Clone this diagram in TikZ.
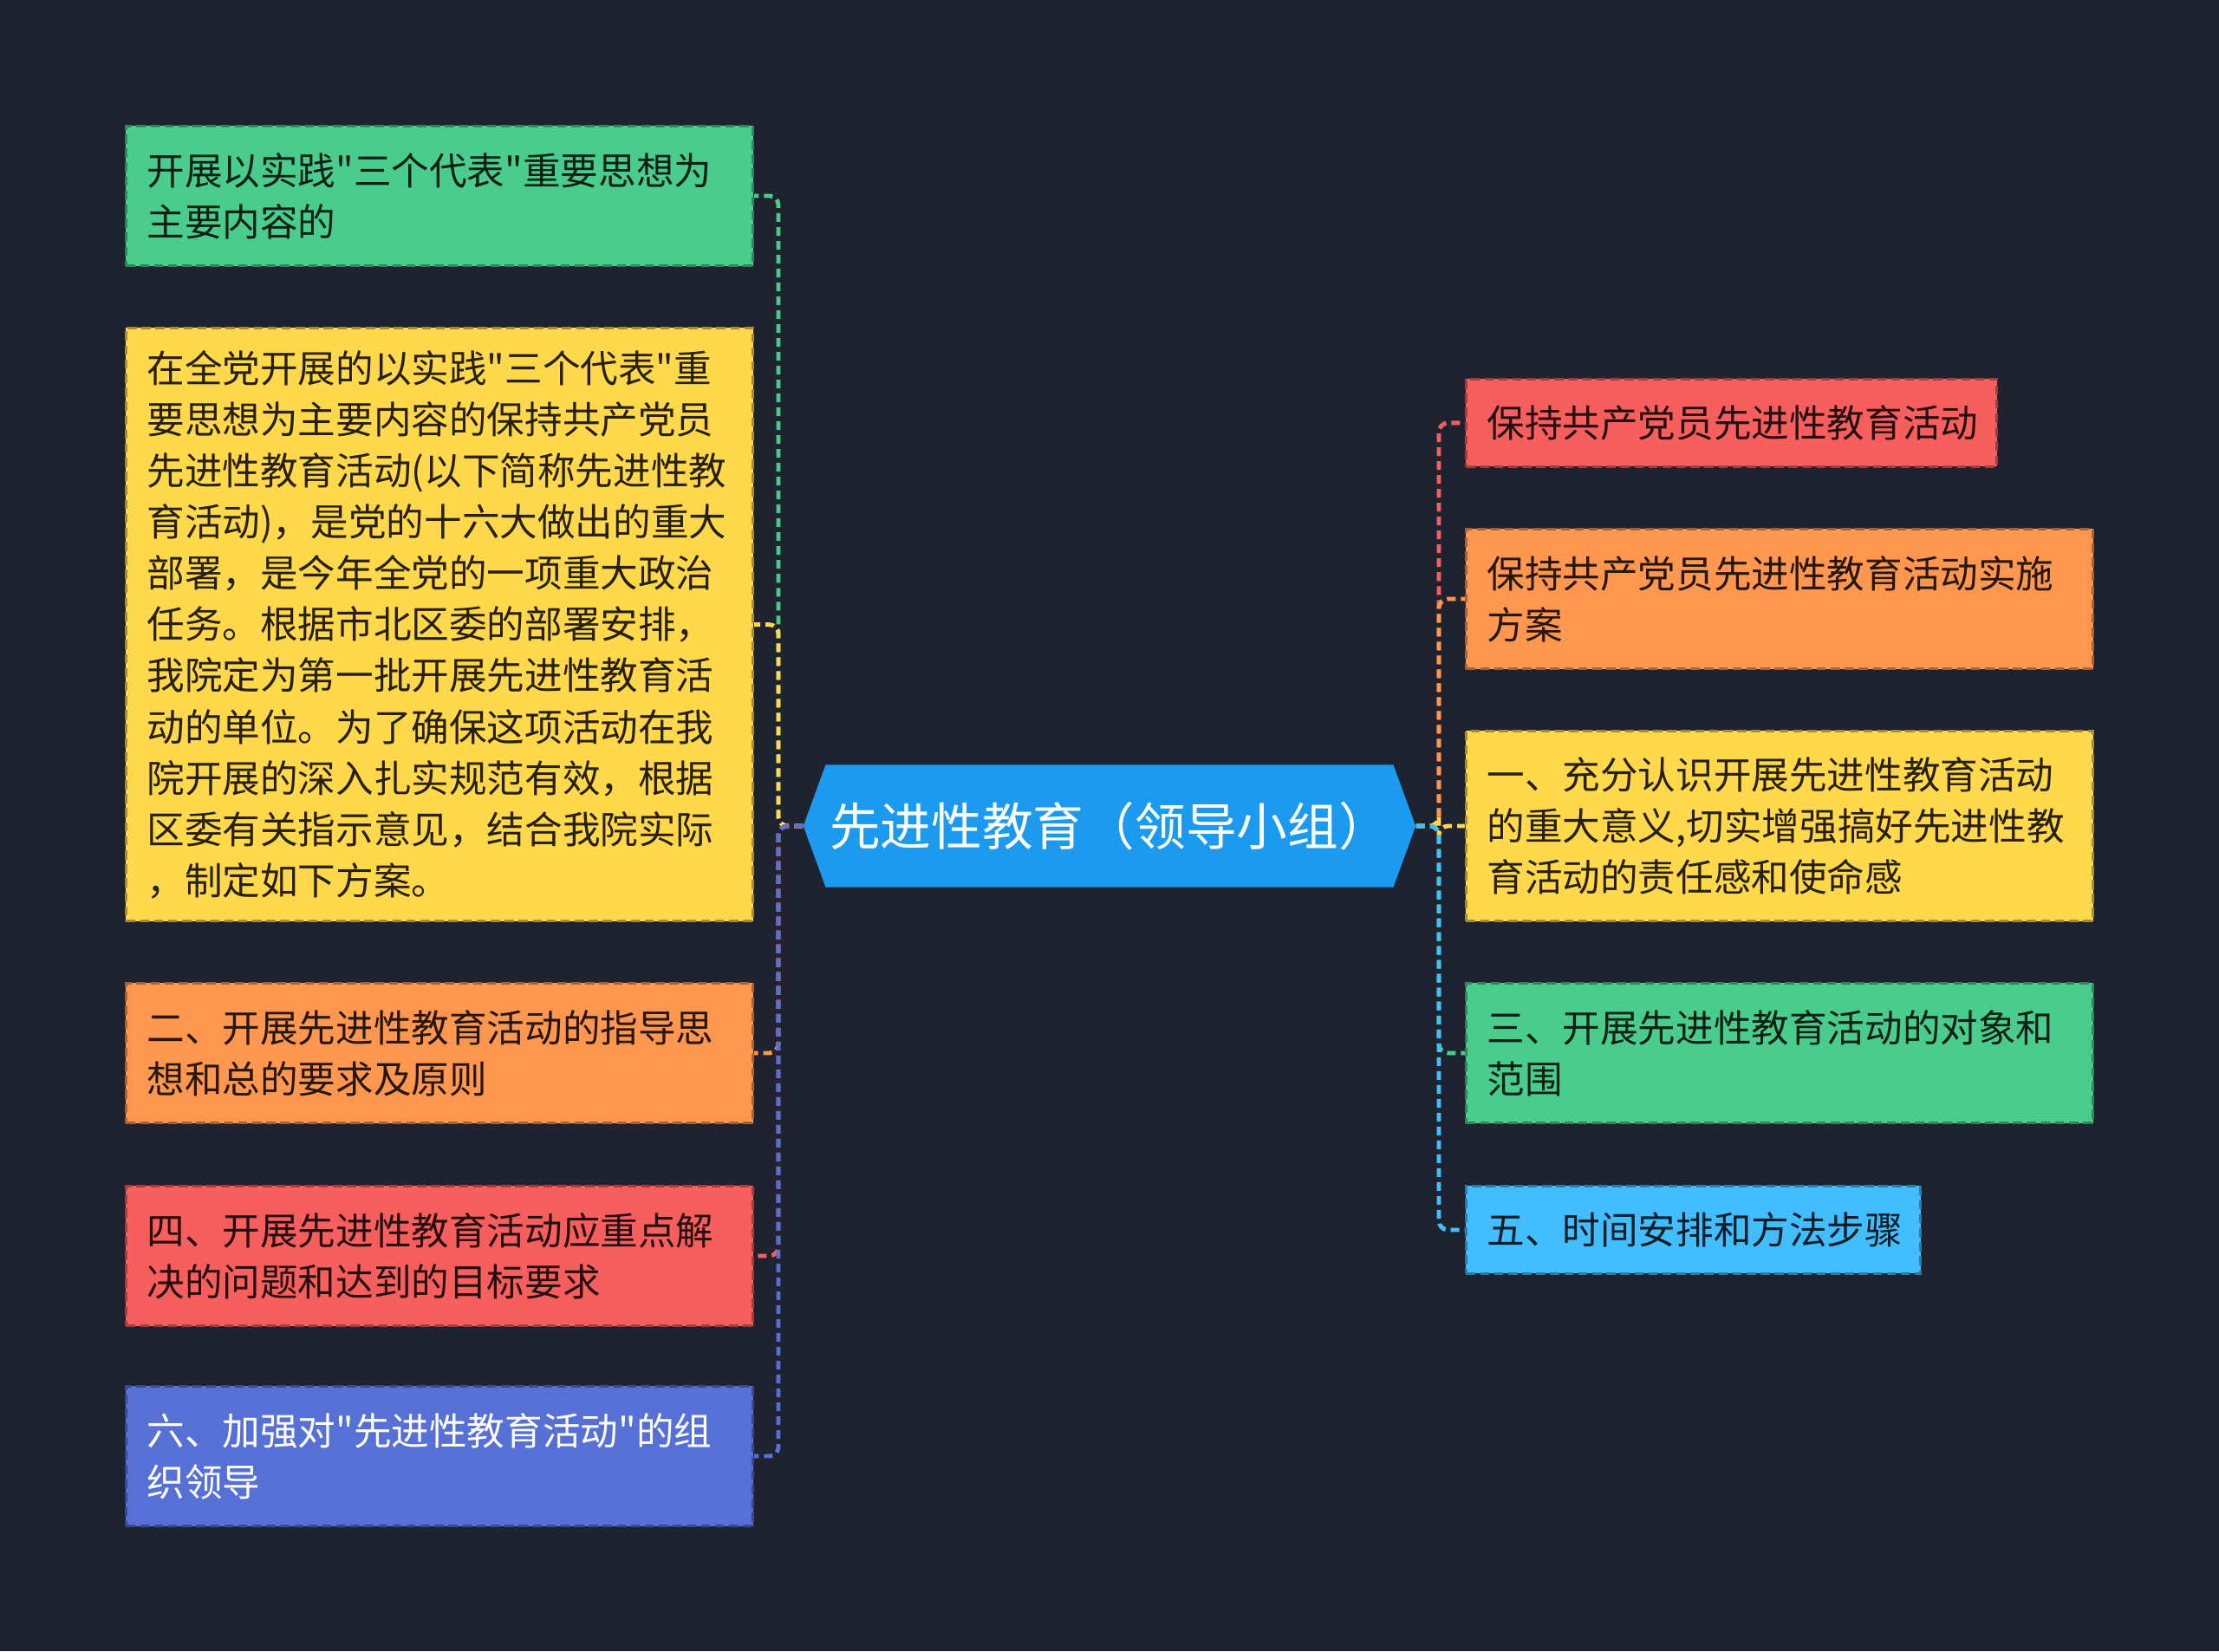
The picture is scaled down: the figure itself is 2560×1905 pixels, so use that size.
\documentclass[tikz,border=0pt]{standalone}
\usepackage{fontspec}
\newfontfamily\cjk{Noto Sans CJK SC}
\usetikzlibrary{shapes.symbols}

\definecolor{bgdark}{HTML}{1F2330}
\definecolor{cgreen}{HTML}{4ACD8C}
\definecolor{cyellow}{HTML}{FFD84B}
\definecolor{corange}{HTML}{FF9750}
\definecolor{cred}{HTML}{F75E5E}
\definecolor{cindigo}{HTML}{5670D6}
\definecolor{clblue}{HTML}{42BEFF}
\definecolor{croot}{HTML}{1B9AEF}

\tikzset{
	topic/.style={shape=signal, signal to=west and east, signal pointer angle=140,
		fill=croot, text=white, inner sep=0pt, minimum width=7.06cm, minimum height=1.41cm,
		font=\cjk\fontsize{16.7pt}{20pt}\selectfont},
	leaf/.style={draw=#1!65!black, fill=#1, dash pattern=on 3pt off 1.6pt, line width=0.8pt,
		anchor=north west, align=left, inner xsep=0.24cm, inner ysep=0pt,
		text=#1!15!black, font=\cjk\fontsize{12.4pt}{16.8pt}\selectfont},
	link/.style={draw=#1, line width=1.4pt, dash pattern=on 0.1cm off 0.06cm, rounded corners=3pt},
}

\begin{document}
\begin{tikzpicture}[x=0.01cm, y=-0.01cm]
	\fill[bgdark] (0,0) rectangle (2560,1905);
	\useasboundingbox (0,0) rectangle (2560,1905);
	
	\node[topic] (root) at (1280,953) {先进性教育（领导小组）};
	\coordinate (ltrunk) at (898,953);
	\coordinate (rtrunk) at (1660,953);
	
	% left branch
	\node[leaf=cgreen, text width=6.75cm, minimum height=1.61cm] (l1) at (144,144)
	{开展以实践"三个代表"重要思想为\\主要内容的};
	\node[leaf=cyellow, text width=6.75cm, minimum height=6.84cm] (l2) at (144,377)
	{在全党开展的以实践"三个代表"重\\要思想为主要内容的保持共产党员\\先进性教育活动(以下简称先进性教\\育活动)，是党的十六大做出的重大\\部署，是今年全党的一项重大政治\\任务。根据市北区委的部署安排，\\我院定为第一批开展先进性教育活\\动的单位。为了确保这项活动在我\\院开展的深入扎实规范有效，根据\\区委有关指示意见，结合我院实际\\，制定如下方案。};
	\node[leaf=corange, text width=6.75cm, minimum height=1.61cm] (l3) at (144,1133)
	{二、开展先进性教育活动的指导思\\想和总的要求及原则};
	\node[leaf=cred, text width=6.75cm, minimum height=1.61cm] (l4) at (144,1367)
	{四、开展先进性教育活动应重点解\\决的问题和达到的目标要求};
	\node[leaf=cindigo, text=white, text width=6.75cm, minimum height=1.61cm] (l5) at (144,1598)
	{六、加强对"先进性教育活动"的组\\织领导};
	
	% right branch
	\node[leaf=cred, text width=5.64cm, minimum height=1.01cm] (r1) at (1690,436)
	{保持共产党员先进性教育活动};
	\node[leaf=corange, text width=6.75cm, minimum height=1.61cm] (r2) at (1690,609)
	{保持共产党员先进性教育活动实施\\方案};
	\node[leaf=cyellow, text width=6.75cm, minimum height=2.19cm] (r3) at (1690,842)
	{一、充分认识开展先进性教育活动\\的重大意义,切实增强搞好先进性教\\育活动的责任感和使命感};
	\node[leaf=cgreen, text width=6.75cm, minimum height=1.61cm] (r4) at (1690,1133)
	{三、开展先进性教育活动的对象和\\范围};
	\node[leaf=clblue, text width=4.76cm, minimum height=1.01cm] (r5) at (1690,1367)
	{五、时间安排和方法步骤};
	
	% connectors
	\draw[link=cgreen] (root.west) -- (root.west -| ltrunk) |- (l1.east);
	\draw[link=cyellow] (root.west) -- (root.west -| ltrunk) |- (l2.east);
	\draw[link=corange] (root.west) -- (root.west -| ltrunk) |- (l3.east);
	\draw[link=cred] (root.west) -- (root.west -| ltrunk) |- (l4.east);
	\draw[link=cindigo] (root.west) -- (root.west -| ltrunk) |- (l5.east);
	
	\draw[link=cred] (root.east) -- (root.east -| rtrunk) |- (r1.west);
	\draw[link=corange] (root.east) -- (root.east -| rtrunk) |- (r2.west);
	\draw[link=cyellow] (root.east) -- (root.east -| rtrunk) |- (r3.west);
	\draw[link=cgreen] (root.east) -- (root.east -| rtrunk) |- (r4.west);
	\draw[link=clblue] (root.east) -- (root.east -| rtrunk) |- (r5.west);
\end{tikzpicture}
\end{document}
